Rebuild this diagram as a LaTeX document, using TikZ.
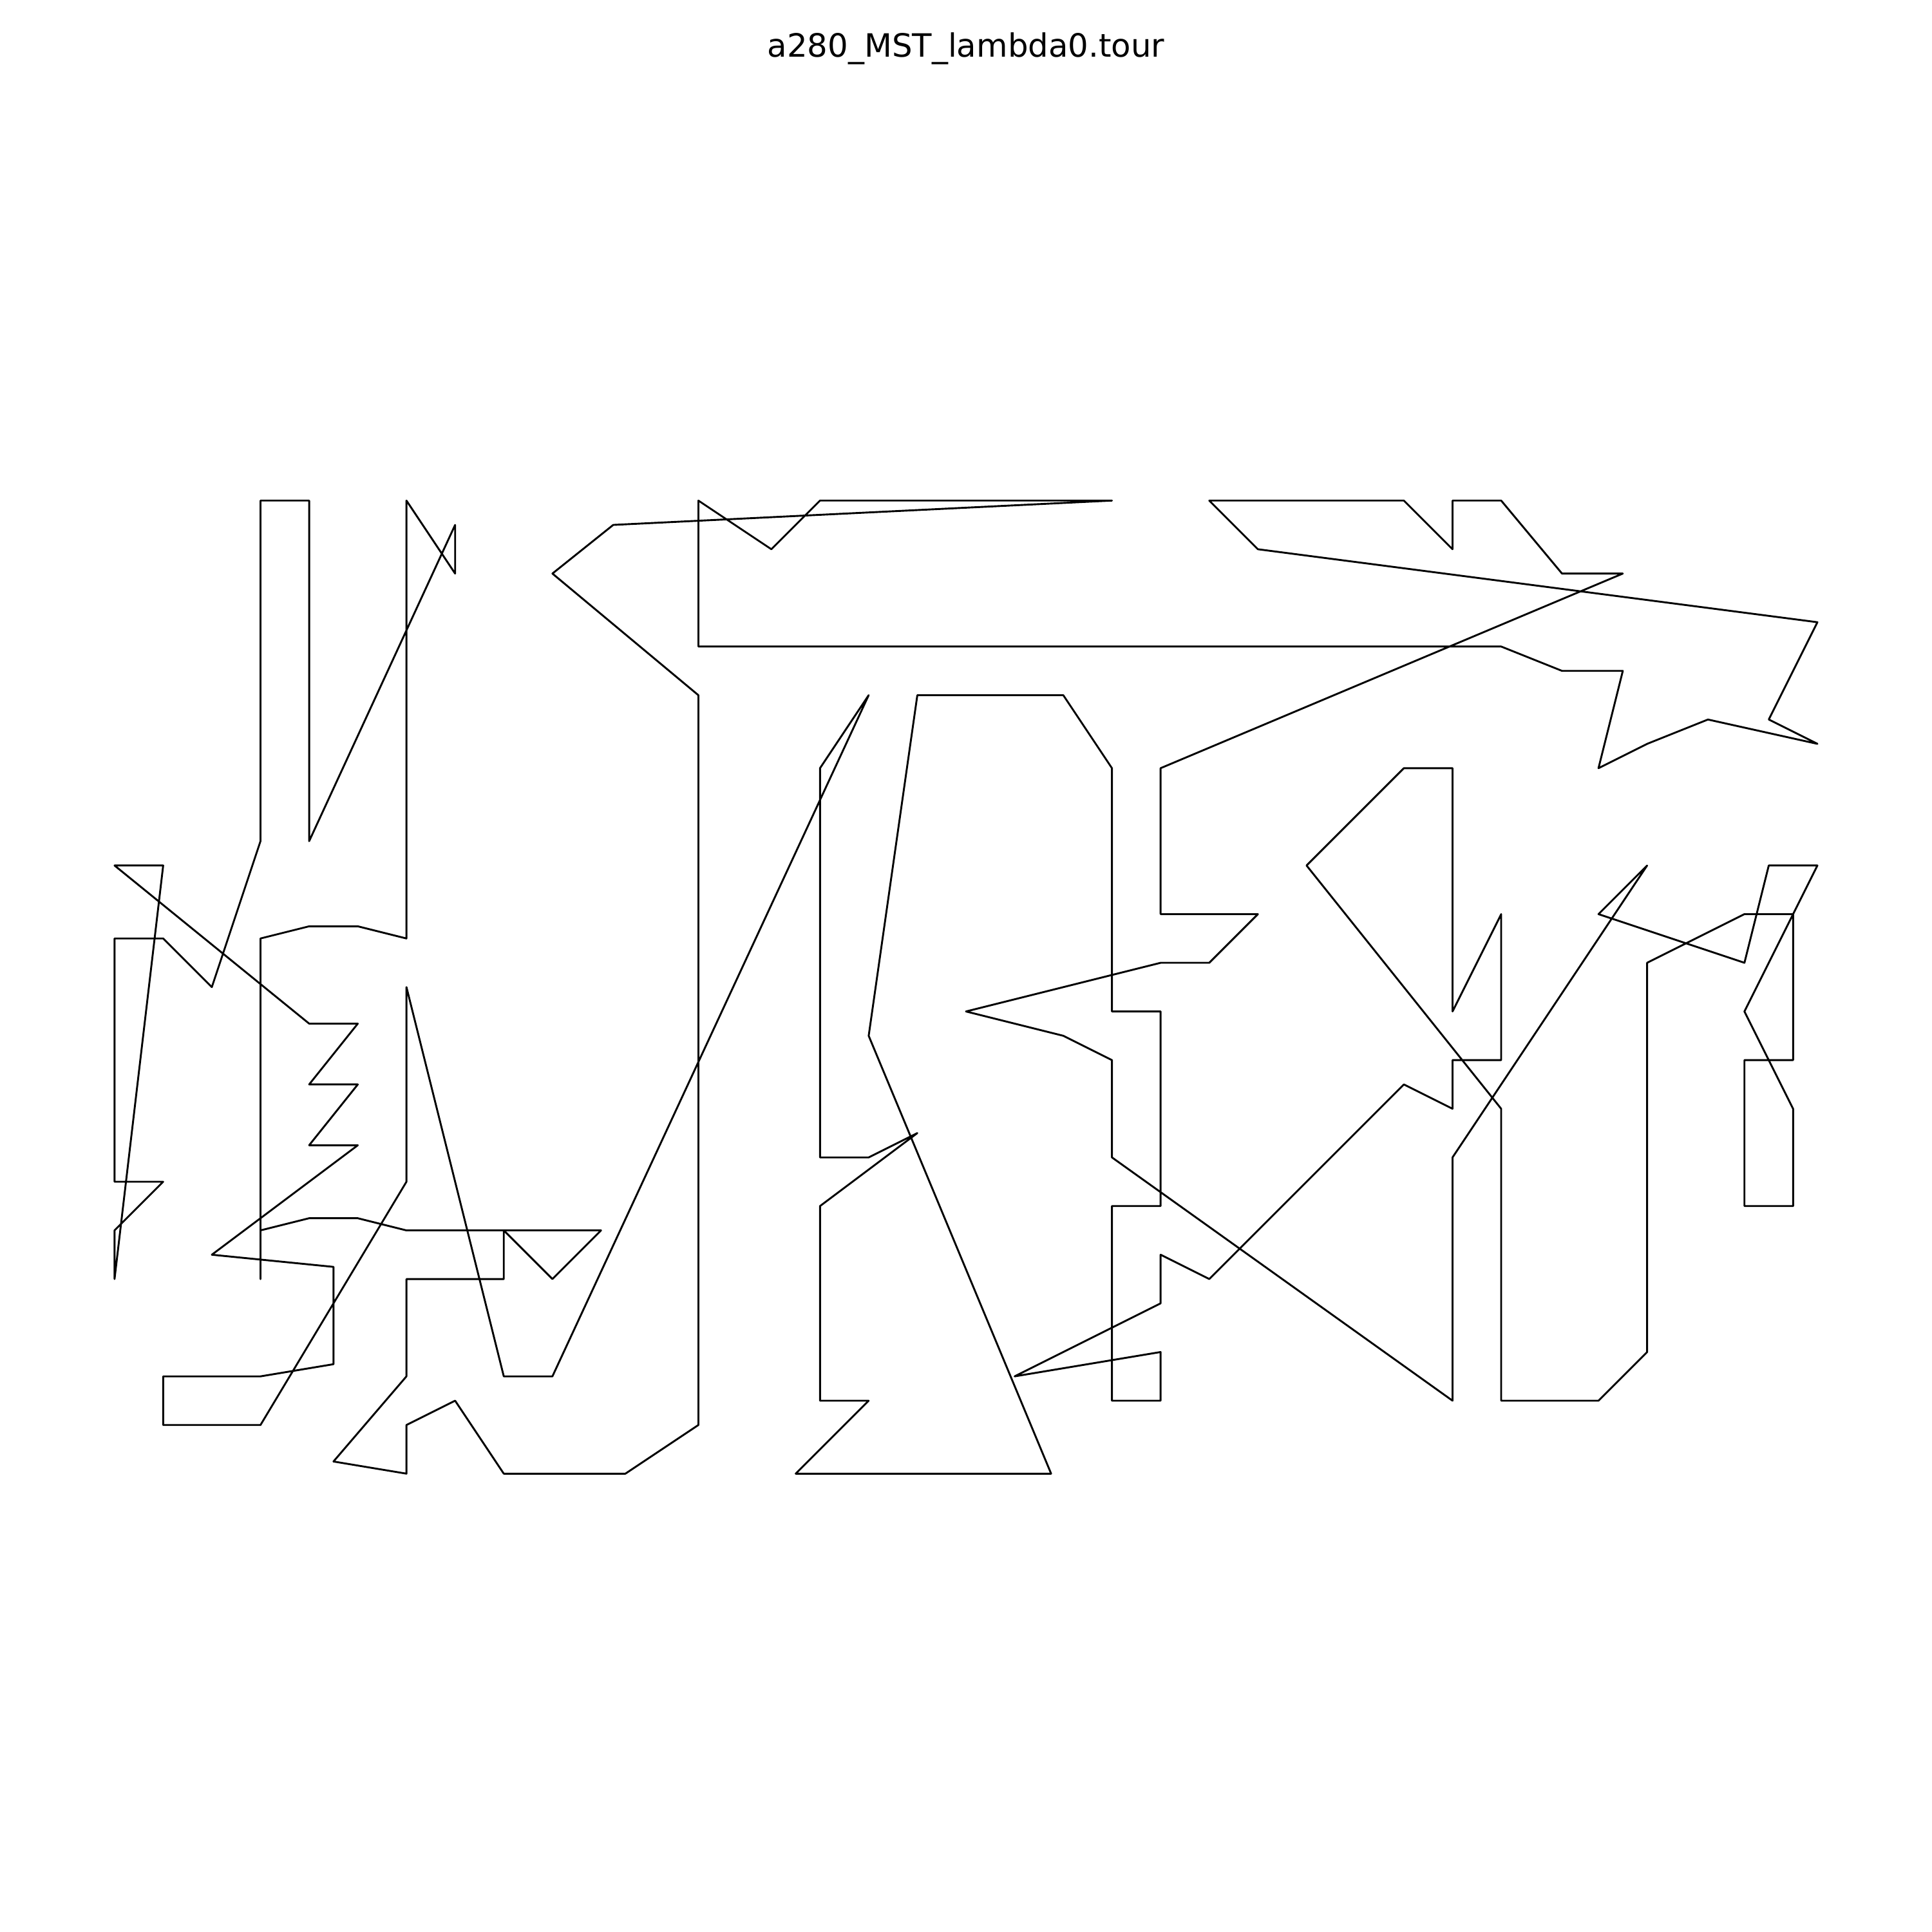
\documentclass[tikz,border=0pt]{standalone}
\usepackage{fontspec}
\setmainfont{DejaVu Sans}
\usepackage{tikz}

\begin{document}
\begin{tikzpicture}[
    tourtitle/.style={
      anchor=base,
      inner sep=0pt,
      font=\fontsize{9.45}{11}\selectfont
    },
    tourline/.style={
      draw=black,
      line width=0.55pt,
      line join=round
    }
  ]

  \path[use as bounding box] (0,0) rectangle (20,20);

  \node[tourtitle] (title) at (10,19.41) {a280\_MST\_lambda0.tour};

  \begin{scope}[shift={(0.682,4.178)}, x=0.06296cm, y=0.06296cm]
  \draw[tourline]
    (32,113) -- (32,169) -- (40,169) -- (40,113) -- (64,165) -- (64,157) --
    (56,169) -- (56,97) -- (48,99) -- (40,99) -- (32,97) -- (32,41) --
    (32,49) -- (40,51) -- (48,51) -- (56,49) -- (88,49) -- (80,41) --
    (72,49) -- (72,41) -- (56,41) -- (56,25) -- (44,11) -- (56,9) --
    (56,17) -- (64,21) -- (72,9) -- (92,9) -- (104,17) -- (104,137) --
    (80,157) -- (90,165) -- (172,169) -- (124,169) -- (116,161) -- (104,169) --
    (104,145) -- (236,145) -- (246,141) -- (256,141) -- (252,125) -- (260,129) --
    (270,133) -- (288,129) -- (280,133) -- (288,149) -- (196,161) -- (188,169) --
    (220,169) -- (228,161) -- (228,169) -- (236,169) -- (246,157) -- (256,157) --
    (180,125) -- (180,101) -- (196,101) -- (188,93) -- (180,93) -- (148,85) --
    (164,81) -- (172,77) -- (172,61) -- (228,21) -- (228,61) -- (260,109) --
    (252,101) -- (276,93) -- (280,109) -- (288,109) -- (276,85) -- (284,69) --
    (284,53) -- (276,53) -- (276,77) -- (284,77) -- (284,101) -- (276,101) --
    (260,93) -- (260,29) -- (252,21) -- (236,21) -- (236,69) -- (204,109) --
    (220,125) -- (228,125) -- (228,85) -- (236,101) -- (236,77) -- (228,77) --
    (228,69) -- (220,73) -- (188,41) -- (180,45) -- (180,37) -- (156,25) --
    (180,29) -- (180,21) -- (172,21) -- (172,53) -- (180,53) -- (180,85) --
    (172,85) -- (172,125) -- (164,137) -- (140,137) -- (132,81) -- (162,9) --
    (120,9) -- (132,21) -- (124,21) -- (124,53) -- (140,65) -- (132,61) --
    (124,61) -- (124,125) -- (132,137) -- (80,25) -- (72,25) -- (56,89) --
    (56,57) -- (32,17) -- (16,17) -- (16,25) -- (32,25) -- (44,27) --
    (44,43) -- (24,45) -- (48,63) -- (40,63) -- (48,73) -- (40,73) --
    (48,83) -- (40,83) -- (8,109) -- (16,109) -- (8,41) -- (8,49) --
    (16,57) -- (8,57) -- (8,97) -- (16,97) -- (24,89) -- cycle;
  \end{scope}

\end{tikzpicture}
\end{document}
